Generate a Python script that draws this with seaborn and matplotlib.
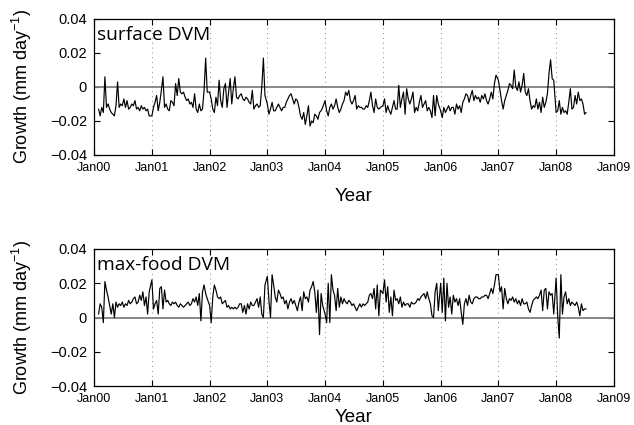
import numpy as np
import pandas as pd
import matplotlib
matplotlib.use("Agg")
import matplotlib.pyplot as plt
import matplotlib.dates as mdates
import seaborn as sns

# Growth values in units of 0.001 mm/day, 10-day steps (2000 series starts 30 Jan)
surface_2000 = [-13,-17,-12,-15,6,-12,-10,-13,-15,-16,-17,-11,3,-12,-10,-11,-7,-12,-8,-13,-12,-10,-11,-8,-13,-12,-14,-11,-13,-12,-14,-13,-17]
surface_2001 = [-17,-12,-9,-5,-14,-9,-2,6,-12,-10,-13,-14,-8,-9,-11,2,-5,5,-3,-4,-3,-6,-8,-7,-10,-9,-12,-4,-13,-15,-10,-14,-13,-2,17,-3]
surface_2002 = [-3,-7,-13,-15,-6,-11,4,-8,-12,-1,2,-12,-3,5,-10,-1,6,-6,-7,-5,-4,-7,-8,-6,-7,-9,-10,-2,-13,-11,-10,-12,-11,0,17,-5]
surface_2003 = [-10,-16,-13,-9,-14,-14,-12,-10,-12,-14,-12,-12,-9,-7,-5,-4,-7,-10,-7,-8,-12,-17,-19,-15,-22,-17,-11,-23,-20,-21,-16,-17,-19,-15,-14,-12]
surface_2004 = [-8,-14,-17,-12,-10,-13,-11,-7,-12,-15,-13,-10,-8,-3,-5,-2,-8,-10,-8,-5,-13,-11,-12,-12,-13,-13,-11,-12,-8,-3,-11,-15,-7,-12,-13,-12]
surface_2005 = [-11,-7,-15,-11,-14,-16,-12,-8,-13,-13,1,-12,-7,-3,-16,-1,-7,-10,-7,-3,-15,-12,-14,-9,-5,-12,-10,-8,-14,-12,-14,-18,-5,-17,-5,-10]
surface_2006 = [-14,-18,-12,-15,-13,-11,-14,-12,-12,-16,-10,-13,-11,-15,-9,-7,-4,-5,-9,-5,-2,-8,-5,-7,-6,-9,-5,-7,-4,-8,-10,-7,-3,-7,2,7]
surface_2007 = [4,-2,-8,-13,-8,-5,-2,2,1,-1,10,0,-2,3,-3,1,8,-3,-5,-1,-8,-13,-11,-12,-7,-13,-9,-15,-6,-12,-9,-4,8,16,5,4]
surface_2008 = [-15,-14,-8,-16,-12,-15,-14,-16,-9,-1,-13,-12,-5,-10,-3,-8,-7,-10,-16,-15]

maxfood_2000 = [2,8,6,-3,21,16,12,7,2,8,0,9,6,8,7,9,6,8,7,10,8,9,11,12,8,9,13,10,15,7,12,2,15]
maxfood_2001 = [22,5,8,10,2,17,18,5,16,9,10,8,7,9,8,9,7,6,8,7,6,7,8,9,7,8,11,9,12,7,14,-2,15,19,14,11]
maxfood_2002 = [7,-3,12,19,16,12,11,12,8,9,10,6,7,5,6,5,6,5,6,8,8,3,7,2,8,5,9,7,7,9,11,6,12,2,0,19]
maxfood_2003 = [24,10,0,25,19,12,9,16,14,11,12,8,10,5,9,11,8,10,7,4,9,12,4,15,11,12,9,16,18,21,15,3,16,-10,14,7]
maxfood_2004 = [2,-3,20,-3,25,16,13,4,17,6,12,8,11,9,8,10,9,7,8,6,4,6,8,6,8,7,8,9,13,14,11,17,5,19,1,16]
maxfood_2005 = [14,22,9,18,3,12,1,16,10,11,8,12,6,9,7,8,8,6,9,8,8,9,11,10,12,13,14,11,15,11,8,1,0,15,20,4]
maxfood_2006 = [20,3,23,-2,20,6,12,2,13,9,11,7,11,3,-4,8,11,7,13,9,8,11,12,12,11,11,12,12,13,13,11,14,17,14,19,25]
maxfood_2007 = [25,15,18,5,17,11,8,11,10,12,9,11,8,10,7,11,8,8,9,5,3,7,10,11,12,11,13,16,4,16,17,5,15,13,14,2]
maxfood_2008 = [23,1,-12,25,2,12,15,8,11,7,9,8,7,9,6,1,8,4,5,5]

years = [2000, 2001, 2002, 2003, 2004, 2005, 2006, 2007, 2008]
surface_series = [surface_2000, surface_2001, surface_2002, surface_2003, surface_2004,
                  surface_2005, surface_2006, surface_2007, surface_2008]
maxfood_series = [maxfood_2000, maxfood_2001, maxfood_2002, maxfood_2003, maxfood_2004,
                  maxfood_2005, maxfood_2006, maxfood_2007, maxfood_2008]

panel_titles = ["surface DVM", "max-food DVM"]
ytick_vals = [-0.04, -0.02, 0, 0.02, 0.04]
ytick_labels = ["\u22120.04", "\u22120.02", "0", "0.02", "0.04"]


def build(series):
    frames = []
    for yr, vals in zip(years, series):
        start = "2000-01-30" if yr == 2000 else f"{yr}-01-01"
        dates = pd.date_range(start, periods=len(vals), freq="10D")
        frames.append(pd.DataFrame({"date": dates, "growth": np.array(vals, float) / 1000.0}))
    return pd.concat(frames, ignore_index=True)


sns.set_theme(style="ticks")
plt.rcParams["font.family"] = ["Liberation Sans", "DejaVu Sans"]
plt.rcParams["mathtext.default"] = "regular"
for k in ["text.color", "axes.labelcolor", "xtick.color", "ytick.color", "axes.edgecolor"]:
    plt.rcParams[k] = "black"

W, H = 634, 425
fig = plt.figure(figsize=(W / 100, H / 100), dpi=100)
ax1 = fig.add_axes([94 / W, 1 - 155 / H, 520 / W, 136 / H])
ax2 = fig.add_axes([94 / W, 1 - 386 / H, 520 / W, 137 / H])

xlab_y = [-0.245, -0.165]
for ax, series, title, xly in zip([ax1, ax2], [surface_series, maxfood_series], panel_titles, xlab_y):
    df = build(series)
    ax.axhline(0, color="#808080", lw=1.3, zorder=1)
    sns.lineplot(data=df, x="date", y="growth", ax=ax, color="black",
                 linewidth=0.85, estimator=None, zorder=3)
    ax.set_xlim(pd.Timestamp("2000-01-01"), pd.Timestamp("2009-01-01"))
    ax.set_ylim(-0.04, 0.04)
    ax.xaxis.set_major_locator(mdates.YearLocator())
    ax.xaxis.set_major_formatter(mdates.DateFormatter("Jan%y"))
    ax.set_yticks(ytick_vals)
    ax.set_yticklabels(ytick_labels)
    ax.xaxis.grid(True, linestyle=(0, (1, 4)), color="#8a8a8a", lw=0.7)
    ax.yaxis.grid(False)
    ax.tick_params(direction="in", top=True, right=True, length=4, width=0.8,
                   colors="black")
    ax.tick_params(axis="x", labelsize=9, pad=5)
    ax.tick_params(axis="y", labelsize=10.5, pad=5)
    for s in ax.spines.values():
        s.set_color("black")
        s.set_linewidth(0.9)
    ax.set_xlabel("Year", fontsize=13.5, color="black")
    ax.xaxis.set_label_coords(0.5, xly)
    ax.set_ylabel("Growth (mm day$^{-1}$)", fontsize=13, color="black")
    ax.yaxis.set_label_coords(-0.115, 0.5)
    ax.text(0.006, 0.88, title, transform=ax.transAxes, va="center", ha="left",
            fontsize=13.8, color="black", family=["Open Sans", "DejaVu Sans"])

fig.savefig("out.png", dpi=100)
